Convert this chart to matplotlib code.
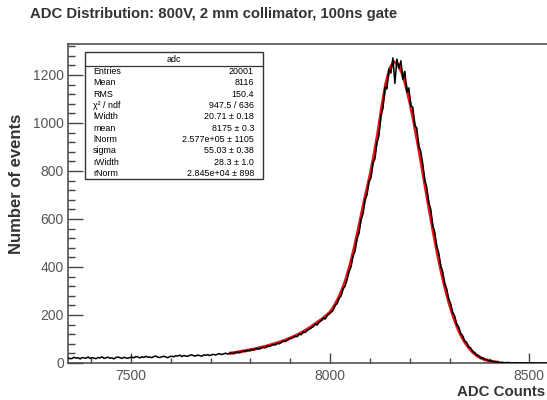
import numpy as np
import matplotlib.pyplot as plt
from matplotlib.ticker import MultipleLocator
from matplotlib.patches import Rectangle

plt.rcParams['font.family'] = ['Liberation Sans', 'DejaVu Sans']

# histogram of ADC counts, 5-count bins starting at 7340
first_edge = 7340
bin_width = 5
counts = (
    [21, 18, 19, 24, 20, 22, 17, 23, 21, 20, 25, 19]
    + [22, 20, 18, 23, 21, 26, 19, 22, 24, 20, 21, 17, 23, 25, 22, 19, 24, 21, 20, 23]
    + [24, 22, 27, 25, 21, 26, 23, 28, 24, 25, 22, 27, 29, 24, 23, 26, 28, 25, 22, 27]
    + [28, 26, 30, 29, 33, 27, 31, 29, 28, 32, 34, 30, 29, 33, 31, 28, 34, 32, 35, 31]
    + [34, 36, 33, 37, 39, 35, 38, 41, 37, 40, 42, 39, 44, 46, 43, 47, 50, 48, 53, 51]
    + [56, 54, 59, 61, 58, 64, 66, 63, 71, 69, 74, 77, 75, 82, 80, 86, 92, 89, 95, 101]
    + [103, 108, 112, 110, 121, 118, 130, 127, 136, 141, 146, 152, 163, 158, 171, 176, 188, 183, 198, 205]
    + [212, 219, 241, 247, 270, 279, 309, 320, 347, 382, 401, 446, 466, 519, 541, 598, 621, 681, 700, 757]
    + [771, 834, 851, 918, 947, 1032, 1061, 1149, 1142, 1224, 1208, 1271, 1165, 1266, 1228, 1259, 1182, 1215, 1128, 1146]
    + [1071, 1066, 988, 979, 903, 881, 829, 761, 731, 668, 641, 571, 545, 486, 459, 404, 380, 331, 309, 266]
    + [247, 209, 196, 161, 151, 122, 114, 91, 86, 66, 63, 47, 44, 32, 31, 21, 22, 14, 15, 9]
    + [10, 6, 6, 3, 4, 2, 3, 1, 2, 2, 1, 0, 1, 1, 0, 1, 0, 0, 1, 0]
    + [0, 1, 0, 0, 0, 0, 0, 0, 0, 0, 0, 0]
)

# fitted function sampled every 10 ADC counts over the fit range
fit_start = 7750
fit_step = 10
fit_values = [
    41, 43, 46, 49, 52,
    55, 58, 62, 66, 70, 75, 80, 85, 91, 97,
    104, 111, 119, 128, 138, 148, 160, 172, 183, 197,
    212, 236, 267, 305, 350, 408, 475, 550, 630, 708,
    780, 865, 960, 1070, 1165, 1228, 1255, 1244, 1211, 1157,
    1088, 1006, 916, 821, 724, 629, 537, 451, 373, 303,
    242, 190, 146, 110, 82, 60, 42, 29, 20, 13,
    9, 5, 3,
]

stat_names = ["Entries", "Mean", "RMS", "χ² / ndf", "lWidth", "mean",
              "lNorm", "sigma", "rWidth", "rNorm"]
stat_values = ["20001", "8116", "150.4", "947.5 / 636", "20.71 ± 0.18",
               "8175 ± 0.3", "2.577e+05 ± 1105", "55.03 ± 0.38",
               "28.3 ± 1.0", "2.845e+04 ± 898"]

centers = first_edge + bin_width * (np.arange(len(counts)) + 0.5)
fit_adc = fit_start + fit_step * np.arange(len(fit_values))

W, H = 547, 400
fig = plt.figure(figsize=(W / 100, H / 100), dpi=100)
ax = fig.add_axes([68 / W, 1 - 363 / H, 1 - 68 / W + 0.01, (363 - 44) / H])

ax.plot(fit_adc, fit_values, color='#e8141a', lw=2.3, zorder=2)
ax.plot(centers, counts, color='black', lw=1.1, zorder=3)

ax.set_xlim(7342, 8558)
ax.set_ylim(0, 1329)

axis_col = '#444444'
for side in ['left', 'bottom', 'top', 'right']:
    ax.spines[side].set_color(axis_col)
    ax.spines[side].set_linewidth(1.1)

ax.xaxis.set_major_locator(MultipleLocator(500))
ax.xaxis.set_minor_locator(MultipleLocator(100))
ax.yaxis.set_major_locator(MultipleLocator(200))
ax.yaxis.set_minor_locator(MultipleLocator(40))
ax.tick_params(axis='both', which='both', direction='in', color=axis_col,
               width=1.0, labelcolor='#555555', labelsize=10)
ax.tick_params(axis='x', which='major', length=7.5, pad=4)
ax.tick_params(axis='x', which='minor', length=3.5)
ax.tick_params(axis='y', which='major', length=11, pad=3)
ax.tick_params(axis='y', which='minor', length=5)

fig.text(30 / W, 1 - 14 / H, "ADC Distribution: 800V, 2 mm collimator, 100ns gate",
         fontsize=10.7, fontweight='bold', color='#333333', ha='left', va='center')
fig.text(17 / W, 1 - 184 / H, "Number of events", fontsize=12, fontweight='bold',
         color='#333333', rotation=90, ha='center', va='center')
fig.text(545 / W, 1 - 392 / H, "ADC Counts", fontsize=10.8, fontweight='bold',
         color='#333333', ha='right', va='center')

# statistics box
bx0, by0, bx1, by1 = 85, 52, 263, 179
box = fig.add_axes([bx0 / W, 1 - by1 / H, (bx1 - bx0) / W, (by1 - by0) / H])
box.set_xlim(0, bx1 - bx0)
box.set_ylim(by1 - by0, 0)
box.axis('off')
box.add_patch(Rectangle((0, 0), bx1 - bx0, by1 - by0, facecolor='white',
                        edgecolor='#333333', lw=1.0, clip_on=False))
header_h = 14
box.plot([0, bx1 - bx0], [header_h, header_h], color='#333333', lw=0.9)
box.text((bx1 - bx0) / 2, header_h / 2, "adc", fontsize=6.4, ha='center', va='center')
row_h = (by1 - by0 - header_h) / len(stat_names)
for i, (name, val) in enumerate(zip(stat_names, stat_values)):
    yc = header_h + row_h * (i + 0.5)
    box.text(8, yc, name, fontsize=6.4, ha='left', va='center')
    box.text(bx1 - bx0 - 9, yc, val, fontsize=6.4, ha='right', va='center')

fig.savefig("out.png", dpi=100)
